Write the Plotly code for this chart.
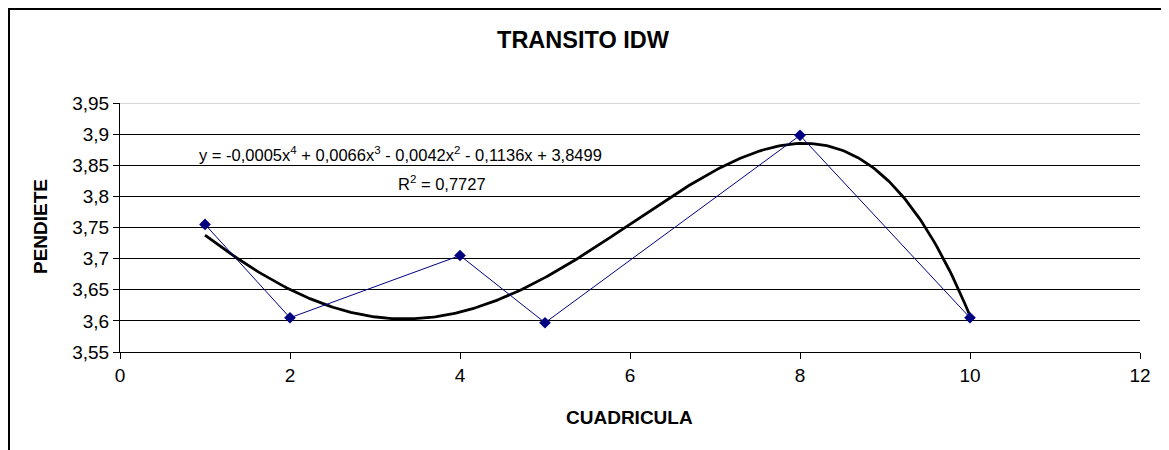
import numpy as np
import plotly.graph_objects as go

cuadricula = [1, 2, 4, 5, 8, 10]
pendiete = [3.755, 3.605, 3.705, 3.597, 3.898, 3.605]
trend_degree = 4
equation_text = ("y = -0,0005x<sup>4</sup> + 0,0066x<sup>3</sup> - 0,0042x<sup>2</sup> "
                 "- 0,1136x + 3,8499")
r2_text = "0,7727"
y_ticks = [3.55, 3.6, 3.65, 3.7, 3.75, 3.8, 3.85, 3.9, 3.95]
x_ticks = [0, 2, 4, 6, 8, 10, 12]

# polynomial trendline fitted to the series (as the spreadsheet does)
coef = np.polyfit(cuadricula, pendiete, trend_degree)
xt = np.linspace(min(cuadricula), max(cuadricula), 300)
yt = np.polyval(coef, xt)

FONT = "Liberation Sans, Arial, sans-serif"

# page body has an 8px margin; compensate so the plot lands where the reference has it
W, H = 1161, 442
L, T, R, B = 112, 95, 29, 98
PW, PH = W - L - R, H - T - B

def px_x(X):  # screen x -> paper
    return (X - 8 - L) / PW

def px_y(Y):  # screen y -> paper
    return (H - B - (Y - 8)) / PH

fig = go.Figure()
fig.add_trace(go.Scatter(x=xt, y=yt, mode="lines",
                         line=dict(color="black", width=2.8), hoverinfo="skip"))
fig.add_trace(go.Scatter(x=cuadricula, y=pendiete, mode="lines+markers",
                         line=dict(color="#000080", width=1),
                         marker=dict(symbol="diamond", size=9, color="#000080")))

def fmt(v):
    return ("%g" % v).replace(".", ",")

fig.update_layout(
    width=W, height=H,
    margin=dict(l=L, r=R, t=T, b=B),
    paper_bgcolor="white", plot_bgcolor="white",
    showlegend=False,
    font=dict(family=FONT, size=19, color="black"),
    title=dict(text="<b>TRANSITO IDW</b>", x=(583 - 8) / W, xanchor="center",
               y=1 - (40 - 8) / H, yanchor="middle", font=dict(size=23.5, family=FONT)),
    xaxis=dict(range=[0, 12], tickvals=x_ticks, ticktext=[str(v) for v in x_ticks],
               showgrid=False, zeroline=False, showline=True, linecolor="black", linewidth=1,
               ticks="outside", ticklen=6, tickcolor="black",
               tickfont=dict(size=19, family=FONT)),
    yaxis=dict(range=[3.55, 3.95], tickvals=y_ticks, ticktext=[fmt(v) for v in y_ticks],
               showgrid=True, gridcolor="black", gridwidth=1, zeroline=False,
               showline=True, linecolor="black", linewidth=1,
               ticks="outside", ticklen=6, tickcolor="black",
               tickfont=dict(size=19, family=FONT)),
)

# top gridline lighter (as in the reference)
fig.add_shape(type="line", xref="paper", yref="y", x0=0, x1=1, y0=3.95, y1=3.95,
              line=dict(color="#b0b0b0", width=1))
# outer chart border
fig.add_shape(type="rect", xref="paper", yref="paper",
              x0=px_x(9), x1=px_x(1164), y0=px_y(470), y1=px_y(9),
              line=dict(color="black", width=2), fillcolor="rgba(0,0,0,0)", layer="below")

# axis titles
fig.add_annotation(x=px_x(629), y=px_y(417), xref="paper", yref="paper",
                   text="<b>CUADRICULA</b>", showarrow=False,
                   font=dict(size=19, family=FONT), xanchor="center", yanchor="middle")
fig.add_annotation(x=px_x(40), y=px_y(227), xref="paper", yref="paper",
                   text="<b>PENDIETE</b>", showarrow=False, textangle=-90,
                   font=dict(size=19, family=FONT), xanchor="center", yanchor="middle")

# trendline label
fig.add_annotation(x=px_x(400), y=px_y(154), xref="paper", yref="paper", text=equation_text,
                   showarrow=False, font=dict(size=16.5, family=FONT),
                   xanchor="center", yanchor="middle")
fig.add_annotation(x=px_x(442), y=px_y(183), xref="paper", yref="paper",
                   text="R<sup>2</sup> = " + r2_text,
                   showarrow=False, font=dict(size=16.5, family=FONT),
                   xanchor="center", yanchor="middle")

fig.write_html("out.html")
